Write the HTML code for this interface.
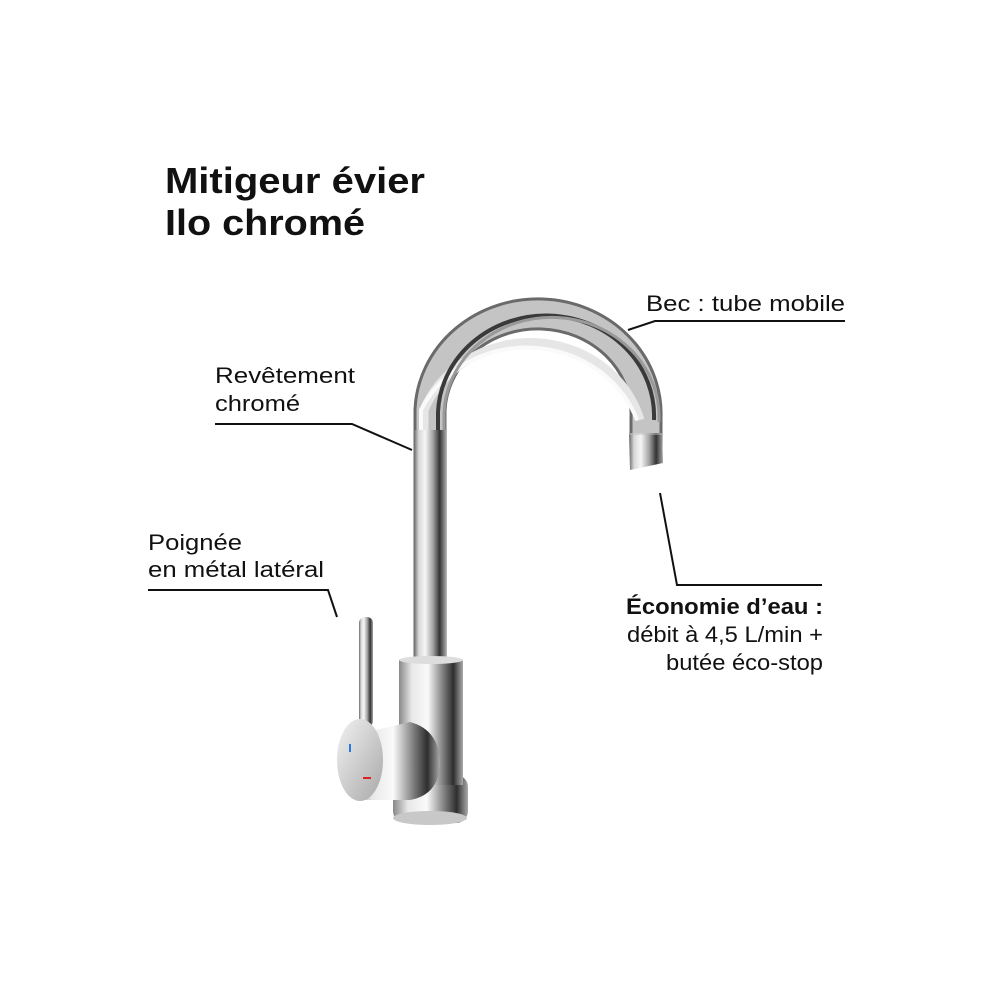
<!DOCTYPE html>
<html><head><meta charset="utf-8"><style>
html,body{margin:0;padding:0;background:#fff;}
svg{display:block;}
text{font-family:"Liberation Sans",Arial,sans-serif;fill:#111;}
</style></head><body>
<svg width="1000" height="1000" viewBox="0 0 1000 1000" xmlns="http://www.w3.org/2000/svg">
<defs>
<linearGradient id="tube" x1="0" x2="1" y1="0" y2="0">
<stop offset="0" stop-color="#6a6a6a"/><stop offset="0.15" stop-color="#d8d8d8"/><stop offset="0.35" stop-color="#f6f6f6"/><stop offset="0.6" stop-color="#a0a0a0"/><stop offset="0.8" stop-color="#333"/><stop offset="1" stop-color="#a5a5a5"/>
</linearGradient>
<linearGradient id="body" x1="0" x2="1" y1="0" y2="0">
<stop offset="0" stop-color="#888"/><stop offset="0.2" stop-color="#e8e8e8"/><stop offset="0.45" stop-color="#fafafa"/><stop offset="0.7" stop-color="#777"/><stop offset="0.85" stop-color="#2e2e2e"/><stop offset="1" stop-color="#aaa"/>
</linearGradient>
<linearGradient id="face" x1="0" x2="1" y1="0" y2="1">
<stop offset="0" stop-color="#f2f2f2"/><stop offset="1" stop-color="#a8a8a8"/>
</linearGradient>
</defs>

<text x="165" y="193" font-size="36" font-weight="bold" textLength="260" lengthAdjust="spacingAndGlyphs">Mitigeur évier</text>
<text x="165" y="235" font-size="36" font-weight="bold" textLength="200" lengthAdjust="spacingAndGlyphs">Ilo chromé</text>

<!-- spout arc -->
<path d="M430 690 L430 410 A108 100 0 0 1 646 418 L646 455" fill="none" stroke="#6a6a6a" stroke-width="33"/>
<path d="M430 690 L430 410 A108 100 0 0 1 646 418 L646 455" fill="none" stroke="#c4c4c4" stroke-width="27"/>
<path d="M424 690 L424 410 A114 106 0 0 1 640 420" fill="none" stroke="#e6e6e6" stroke-width="9"/>
<path d="M421 690 L421 410 A117 109 0 0 1 637 420" fill="none" stroke="#fafafa" stroke-width="4"/>
<path d="M438 690 L438 412 A100 93 0 0 1 654 420" fill="none" stroke="#3a3a3a" stroke-width="4"/>
<path d="M444 690 L444 412 A94 87 0 0 1 659 422" fill="none" stroke="#999" stroke-width="3"/>
<rect x="414" y="430" width="32" height="260" fill="url(#tube)"/>
<path d="M629 433 L662 433 L663 463 L630 470 Z" fill="url(#tube)"/>
<line x1="629" y1="434" x2="662" y2="434" stroke="#bbb" stroke-width="1"/>

<!-- body -->
<rect x="393" y="775" width="75" height="48" rx="12" fill="url(#body)"/>
<ellipse cx="430" cy="818" rx="37" ry="7" fill="#c8c8c8"/>
<rect x="399" y="660" width="64" height="125" fill="url(#body)"/>
<ellipse cx="431" cy="660" rx="32" ry="4" fill="#ddd"/>
<!-- handle -->
<rect x="359" y="617" width="14" height="110" rx="6" fill="url(#tube)"/>
<path d="M355 735 L410 722 Q440 730 440 765 Q438 795 410 800 L360 800 Z" fill="url(#body)"/>
<ellipse cx="360" cy="760" rx="23" ry="41" fill="url(#face)"/>
<line x1="350" y1="744" x2="350" y2="752" stroke="#2a7ae2" stroke-width="2"/>
<line x1="363" y1="778" x2="371" y2="778" stroke="#e02020" stroke-width="2"/>

<!-- callouts -->
<g fill="none" stroke="#111" stroke-width="2">
<polyline points="215,424 352,424 412,450"/>
<polyline points="628,330 655,321 845,321"/>
<polyline points="148,590 328,590 337,617"/>
<polyline points="660,493 677,585 822,585"/>
</g>

<g font-size="22">
<text x="646" y="311" textLength="199" lengthAdjust="spacingAndGlyphs">Bec : tube mobile</text>
<text x="215" y="383" textLength="140" lengthAdjust="spacingAndGlyphs">Revêtement</text>
<text x="215" y="411" textLength="85" lengthAdjust="spacingAndGlyphs">chromé</text>
<text x="148" y="550" textLength="94" lengthAdjust="spacingAndGlyphs">Poignée</text>
<text x="148" y="577" textLength="176" lengthAdjust="spacingAndGlyphs">en métal latéral</text>
<text x="626" y="614" font-weight="bold" textLength="197" lengthAdjust="spacingAndGlyphs">Économie d’eau :</text>
<text x="627" y="642" textLength="196" lengthAdjust="spacingAndGlyphs">débit à 4,5 L/min +</text>
<text x="666" y="670" textLength="157" lengthAdjust="spacingAndGlyphs">butée éco-stop</text>
</g>
</svg>
</body></html>
